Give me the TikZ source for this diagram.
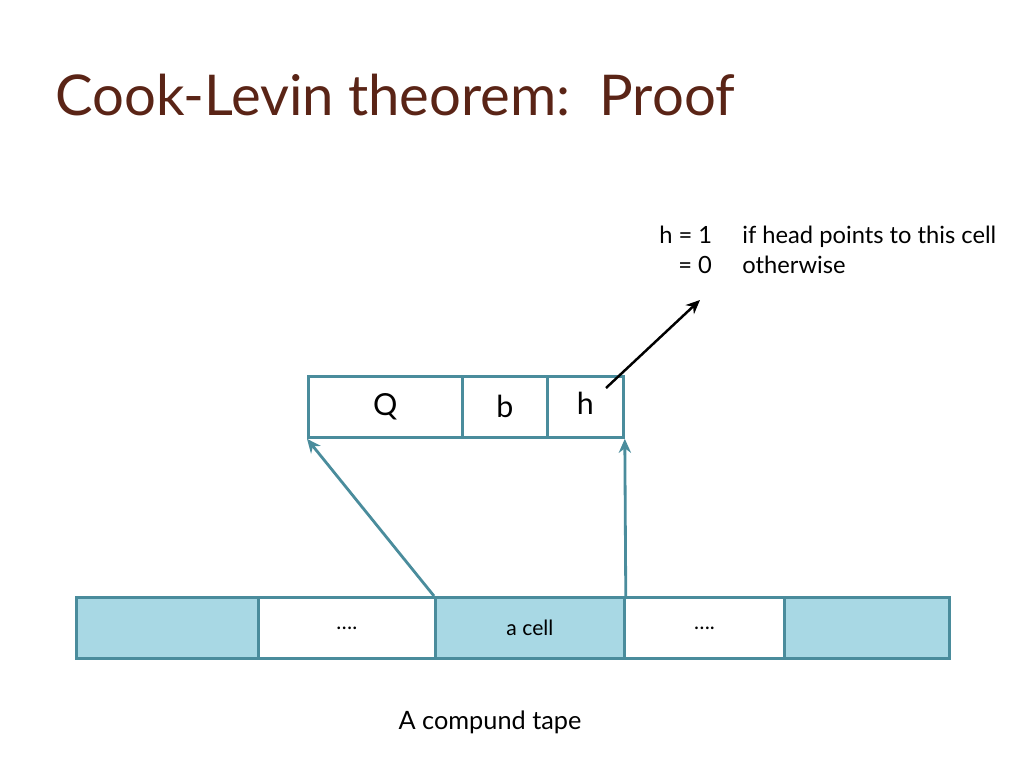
\documentclass[tikz,border=0pt]{standalone}
\usepackage{fontspec}
\setmainfont{Lato}
\usetikzlibrary{arrows.meta, positioning}
\definecolor{titlebrown}{HTML}{5A2416}
\definecolor{tapeline}{HTML}{4A8C9C}
\definecolor{tapefill}{HTML}{A8D8E4}
\tikzset{
  cellbox/.style={draw=tapeline, line width=1.6pt, minimum height=1.22cm, inner sep=0pt, anchor=north west},
  linkarrow/.style={draw=tapeline, line width=1.6pt, -{Stealth[length=8pt,width=7pt]}},
  notetext/.style={anchor=base west, inner sep=0pt, font=\fontsize{13.5}{16}\selectfont}
}
\begin{document}
\begin{tikzpicture}[x=0.02cm, y=-0.02cm]
\useasboundingbox (0,0) rectangle (1024,768);
\node[anchor=base west, inner sep=0pt, text=titlebrown, font=\fontsize{32}{38}\selectfont] (title) at (55,115) {Cook-Levin theorem:\ \ Proof};
% compound tape
\node[cellbox, fill=tapefill, minimum width=3.64cm] (t1) at (75,596) {};
\node[cellbox, fill=white, minimum width=3.54cm, font=\large] (t2) at (257,596) {….};
\node[cellbox, fill=tapefill, minimum width=3.78cm, font=\large] (t3) at (434,596) {a cell};
\node[cellbox, fill=white, minimum width=3.2cm, font=\large] (t4) at (623,596) {….};
\node[cellbox, fill=tapefill, minimum width=3.3cm] (t5) at (783,596) {};
% one cell
\node[cellbox, minimum width=3.08cm, font=\LARGE] (q) at (307,375) {Q\hspace{1.1cm}};
\node[cellbox, minimum width=1.7cm, font=\LARGE] (b) at (461,375) {b\hspace{0.4cm}};
\node[cellbox, minimum width=1.52cm, font=\LARGE] (h) at (546,375) {\raisebox{4pt}{h}\hspace{0.2cm}};
\draw[linkarrow] (t3.north west) -- (q.south west);
\draw[linkarrow] (t3.north east) -- (h.south east);
\coordinate (hstart) at (606,388);
\coordinate (hend) at (700,300);
\draw[line width=1.4pt, -{Stealth[length=8pt,width=7pt]}] (hstart) -- (hend);
\node[notetext] (h1) at (659,243) {h = 1};
\node[notetext] (h1t) at (742,243) {if head points to this cell};
\node[notetext] (h0) at (678,273) {= 0};
\node[notetext] (h0t) at (742,273) {otherwise};
\node[font=\Large] (caption) at (490,722) {A compund tape};
\end{tikzpicture}
\end{document}
